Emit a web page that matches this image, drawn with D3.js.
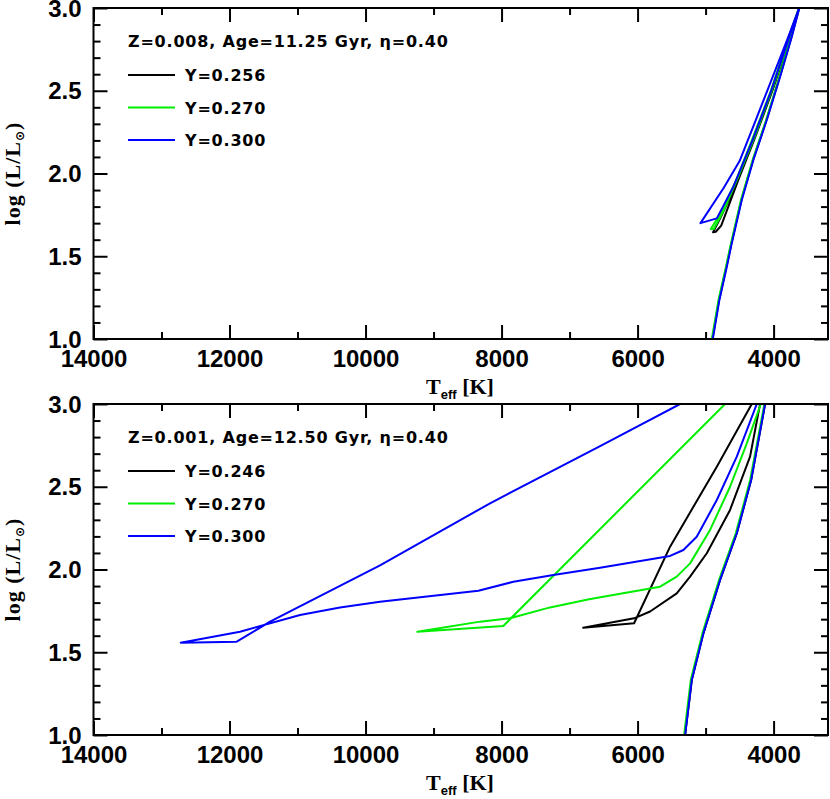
<!DOCTYPE html>
<html>
<head>
<meta charset="utf-8">
<script src="https://cdn.jsdelivr.net/npm/d3@7"></script>
<style>
body { margin: 0; background: #fff; }
</style>
</head>
<body>
<svg id="chart" width="830" height="799"></svg>
<script>
// axis values
var tempDomain = [14000, 3200];
var lumDomain = [1.0, 3.0];
var tempTicks = [14000, 12000, 10000, 8000, 6000, 4000];
var tempMinor = [13000, 11000, 9000, 7000, 5000];
var lumTicks = [1.0, 1.5, 2.0, 2.5, 3.0];
var lumMinor = [1.1, 1.2, 1.3, 1.4, 1.6, 1.7, 1.8, 1.9, 2.1, 2.2, 2.3, 2.4, 2.6, 2.7, 2.8, 2.9];

// legend texts
var topTitle = "Z=0.008, Age=11.25 Gyr, η=0.40";
var topNames = ["Y=0.256", "Y=0.270", "Y=0.300"];
var botTitle = "Z=0.001, Age=12.50 Gyr, η=0.40";
var botNames = ["Y=0.246", "Y=0.270", "Y=0.300"];

// 上のパネル  [Teff, logL]
var topRgb256 = [[4899,1.0],[4802,1.236],[4693,1.437],[4620,1.578],[4473,1.84],[4302,2.082],[4105,2.323],[3909,2.585],[3737,2.827],[3625,3.0]];
var topHb256  = [[3625,3.0],[3790,2.8],[4030,2.5],[4300,2.2],[4540,1.95],[4760,1.75],[4890,1.645],[4850,1.648],[4770,1.685],[4520,1.96],[4270,2.22],[4000,2.52],[3775,2.8],[3625,3.0]];
var topRgb270 = [[4908,1.0],[4810,1.236],[4700,1.437],[4627,1.578],[4480,1.84],[4308,2.082],[4110,2.323],[3913,2.585],[3740,2.827],[3625,3.0]];
var topHb270  = [[3625,3.0],[3800,2.8],[4040,2.5],[4320,2.2],[4560,1.95],[4780,1.76],[4924,1.665],[4880,1.665],[4740,1.77],[4520,1.98],[4280,2.22],[4010,2.52],[3780,2.8],[3625,3.0]];
var topRgb300 = [[4894,1.0],[4797,1.236],[4688,1.437],[4615,1.578],[4468,1.84],[4297,2.082],[4100,2.323],[3904,2.585],[3732,2.827],[3621,3.0]];
var topHb300  = [[3625,3.0],[3782,2.827],[4012,2.585],[4262,2.323],[4500,2.075],[4730,1.915],[5075,1.70],[4835,1.729],[4591,1.92],[4310,2.2],[4035,2.5],[3790,2.8],[3625,3.0]];

// 下のパネル
var botRgb246 = [[5301,1.0],[5203,1.332],[5032,1.614],[4787,1.937],[4541,2.219],[4330,2.541],[4125,3.0]];
var botHb246  = [[4199,3.0],[4346,2.682],[4640,2.36],[4982,2.098],[5228,1.957],[5424,1.856],[5816,1.746],[6051,1.705],[6800,1.648],[6051,1.675],[5522,2.138],[4835,2.621],[4321,3.0]];
var botRgb270 = [[5316,1.0],[5218,1.332],[5047,1.614],[4802,1.937],[4556,2.219],[4345,2.541],[4135,3.0]];
var botHb270  = [[4188,3.0],[4394,2.762],[4640,2.5],[4934,2.239],[5228,2.037],[5424,1.957],[5669,1.896],[6713,1.82],[7287,1.771],[7875,1.705],[8316,1.685],[9238,1.624],[7974,1.659],[4713,3.0]];
var botRgb300 = [[5301,1.0],[5203,1.332],[5032,1.614],[4787,1.937],[4541,2.219],[4330,2.541],[4125,3.0]];
var botHb300  = [[4247,3.0],[4541,2.682],[4835,2.42],[5130,2.198],[5326,2.118],[5522,2.082],[6551,2.011],[7238,1.967],[7826,1.926],[8341,1.872],[9787,1.805],[10375,1.771],[10963,1.725],[11846,1.624],[12718,1.558],[11894,1.564],[11404,1.685],[9787,2.025],[8169,2.40],[6551,2.745],[5375,3.0]];

var seriesColors = ["#000000", "#00ee00", "#0000ff"];

var panels = [
    { top: 8,   bottom: 339, title: topTitle, names: topNames,
      tracks: [[topRgb256, topHb256], [topRgb270, topHb270], [topRgb300, topHb300]] },
    { top: 404, bottom: 735, title: botTitle, names: botNames,
      tracks: [[botRgb246, botHb246], [botRgb270, botHb270], [botRgb300, botHb300]] }
];

var svg = d3.select("#chart");
var left = 93.5, right = 828;
var x = d3.scaleLinear().domain(tempDomain).range([left, right]);

var tickFont = "'Liberation Sans', Arial, sans-serif";
var legendFont = "'DejaVu Sans', sans-serif";
var titleFont = "'Liberation Serif', 'Times New Roman', serif";

function styleAxis(sel) {
    sel.select(".domain").remove();
    sel.selectAll("line").attr("stroke", "#000").attr("stroke-width", 2);
    sel.selectAll("text")
        .attr("fill", "#000")
        .style("font-family", tickFont)
        .style("font-size", "24px")
        .style("font-weight", "bold");
}

panels.forEach(function(p, i){
    var y = d3.scaleLinear().domain(lumDomain).range([p.bottom, p.top]);
    var g = svg.append("g");

    // clip
    svg.append("clipPath").attr("id", "clip" + i)
        .append("rect")
        .attr("x", left).attr("y", p.top)
        .attr("width", right - left).attr("height", p.bottom - p.top);

    var line = d3.line().x(function(d){ return x(d[0]); }).y(function(d){ return y(d[1]); });
    var lines = g.append("g").attr("clip-path", "url(#clip" + i + ")");
    p.tracks.forEach(function(segs, k){
        segs.forEach(function(s){
            lines.append("path")
                .attr("d", line(s))
                .attr("fill", "none")
                .attr("stroke", seriesColors[k])
                .attr("stroke-width", 2)
                .attr("stroke-linejoin", "round");
        });
    });

    // axes: major + minor, ticks inside
    var fmtX = d3.format("d"), fmtY = d3.format(".1f");
    var ax = g.append("g").attr("transform", "translate(0," + p.bottom + ")")
        .call(d3.axisBottom(x).tickValues(tempTicks).tickSize(-14).tickFormat(fmtX));
    styleAxis(ax);
    ax.selectAll("text").attr("y", 28).attr("dy", 0);
    styleAxis(g.append("g").attr("transform", "translate(0," + p.bottom + ")")
        .call(d3.axisBottom(x).tickValues(tempMinor).tickSize(-7).tickFormat("")));
    styleAxis(g.append("g").attr("transform", "translate(0," + p.top + ")")
        .call(d3.axisTop(x).tickValues(tempTicks).tickSize(-14).tickFormat("")));
    styleAxis(g.append("g").attr("transform", "translate(0," + p.top + ")")
        .call(d3.axisTop(x).tickValues(tempMinor).tickSize(-7).tickFormat("")));

    var ay = g.append("g").attr("transform", "translate(" + left + ",0)")
        .call(d3.axisLeft(y).tickValues(lumTicks).tickSize(-14).tickFormat(fmtY));
    styleAxis(ay);
    ay.selectAll("text").attr("x", -12).attr("dy", "0.34em");
    styleAxis(g.append("g").attr("transform", "translate(" + left + ",0)")
        .call(d3.axisLeft(y).tickValues(lumMinor).tickSize(-7).tickFormat("")));
    styleAxis(g.append("g").attr("transform", "translate(" + right + ",0)")
        .call(d3.axisRight(y).tickValues(lumTicks).tickSize(-14).tickFormat("")));
    styleAxis(g.append("g").attr("transform", "translate(" + right + ",0)")
        .call(d3.axisRight(y).tickValues(lumMinor).tickSize(-7).tickFormat("")));

    // frame
    g.append("rect")
        .attr("x", left).attr("y", p.top)
        .attr("width", right - left).attr("height", p.bottom - p.top)
        .attr("fill", "none").attr("stroke", "#000").attr("stroke-width", 2);

    // legend
    var lg = g.append("g")
        .style("font-family", legendFont).style("font-size", "16px")
        .style("font-weight", "bold").style("letter-spacing", "0.8px");
    lg.append("text").attr("x", 128).attr("y", p.top + 39).text(p.title);
    p.names.forEach(function(n, k){
        var ly = p.top + 67 + k * 32.5;
        lg.append("line").attr("x1", 128).attr("x2", 175).attr("y1", ly).attr("y2", ly)
            .attr("stroke", seriesColors[k]).attr("stroke-width", 2);
        lg.append("text").attr("x", 185).attr("y", ly + 6).text(n);
    });

    // x title
    var xt = g.append("text")
        .attr("x", 460).attr("y", p.bottom + 55)
        .attr("text-anchor", "middle")
        .style("font-family", titleFont).style("font-size", "22px").style("font-weight", "bold");
    xt.append("tspan").text("T");
    xt.append("tspan").attr("dy", 5).style("font-family", tickFont).style("font-size", "13px").text("eff");
    xt.append("tspan").attr("dy", -5).text(" [K]");

    // y title
    var yt = g.append("text")
        .attr("transform", "translate(20," + ((p.top + p.bottom) / 2) + ") rotate(-90)")
        .attr("text-anchor", "middle")
        .style("font-family", titleFont).style("font-size", "22px").style("font-weight", "bold")
        .style("letter-spacing", "1px");
    yt.append("tspan").text("log (L/L");
    yt.append("tspan").attr("dy", 4).style("font-family", legendFont).style("font-size", "12px").text("⊙");
    yt.append("tspan").attr("dy", -4).text(")");
});
</script>
</body>
</html>
